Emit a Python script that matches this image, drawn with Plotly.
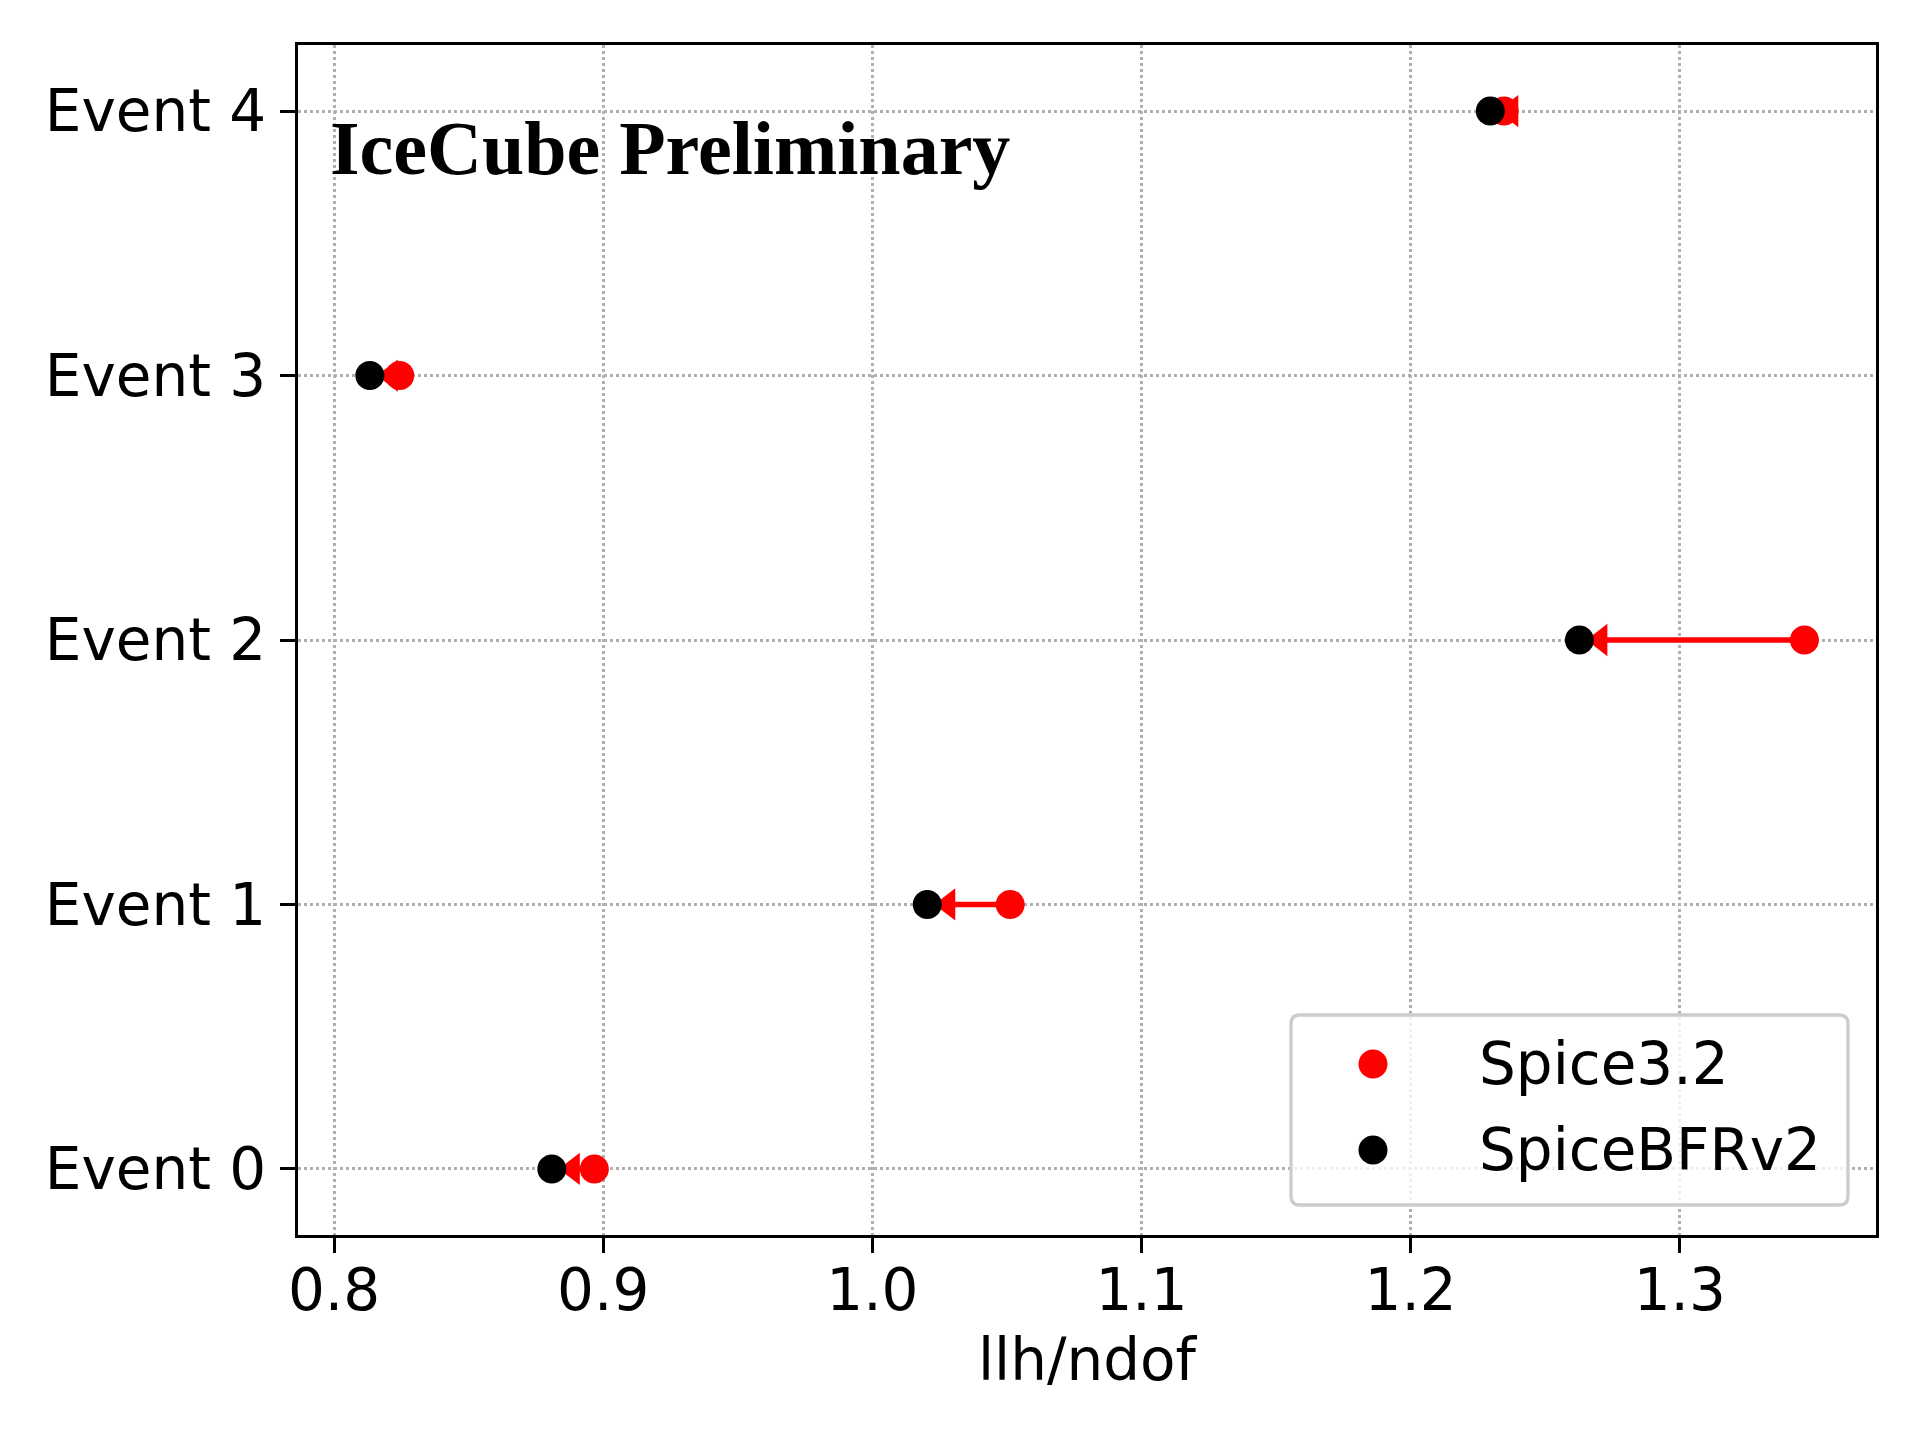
import plotly.graph_objects as go

# ---- data ----
events = ["Event 0", "Event 1", "Event 2", "Event 3", "Event 4"]
spice32 = [0.8967, 1.0512, 1.3463, 0.8244, 1.2347]
spice_bfrv2 = [0.8809, 1.0204, 1.2627, 0.8133, 1.2296]
xtick_vals = [0.8, 0.9, 1.0, 1.1, 1.2, 1.3]
xtick_text = ["0.8", "0.9", "1.0", "1.1", "1.2", "1.3"]
series_names = ["Spice3.2", "SpiceBFRv2"]

# ---- layout constants ----
W, H = 1920, 1440
OFF = 8  # page body margin offset
PX0, PX1, PY0, PY1 = 298, 1876, 45, 1235  # plot area on screen
M = dict(l=PX0 - OFF, r=W + OFF - PX1, t=PY0 - OFF, b=H + OFF - PY1)
XR = [0.7866, 1.3729]
YR = [-0.25, 4.25]
plot_w = PX1 - PX0
plot_h = PY1 - PY0
units_per_px = (XR[1] - XR[0]) / plot_w
HEAD_SIZE = 28
head_offset = 21 * units_per_px
FONT = "DejaVu Sans"
FS = 58
MS = 29

fig = go.Figure()

# arrow shafts (red -> black)
sx, sy = [], []
for e, r, b in zip(events, spice32, spice_bfrv2):
    sx += [r, b, None]
    sy += [e, e, None]
fig.add_trace(go.Scatter(x=sx, y=sy, mode="lines",
                         line=dict(color="#ff0000", width=5.5),
                         showlegend=False, hoverinfo="skip"))
# arrow heads
fig.add_trace(go.Scatter(x=[b + head_offset for b in spice_bfrv2], y=events,
                         mode="markers",
                         marker=dict(symbol="triangle-left", size=HEAD_SIZE,
                                     color="#ff0000", line=dict(width=0)),
                         showlegend=False, hoverinfo="skip"))
# points
fig.add_trace(go.Scatter(x=spice32, y=events, mode="markers", name=series_names[0],
                         marker=dict(color="#ff0000", size=MS, line=dict(width=0)),
                         showlegend=False))
fig.add_trace(go.Scatter(x=spice_bfrv2, y=events, mode="markers", name=series_names[1],
                         marker=dict(color="#000000", size=MS, line=dict(width=0)),
                         showlegend=False))

axis_common = dict(
    showline=True, linewidth=3.3, linecolor="black", mirror=True,
    ticks="outside", ticklen=15, tickwidth=3.3, tickcolor="black",
    showgrid=True, gridcolor="#b0b0b0", griddash="dot", gridwidth=2.5,
    zeroline=False,
    tickfont=dict(family=FONT, size=FS, color="black"),
)

fig.update_layout(
    width=W, height=H,
    margin=M,
    paper_bgcolor="white", plot_bgcolor="white",
    showlegend=False,
    font=dict(family=FONT, size=FS, color="black"),
    xaxis=dict(range=XR, tickvals=xtick_vals, ticktext=xtick_text,
               title=dict(text="llh/ndof", font=dict(family=FONT, size=FS, color="black"),
                          standoff=17),
               ticklabelstandoff=-13,
               **axis_common),
    yaxis=dict(type="category", categoryorder="array", categoryarray=events,
               range=YR, ticklabelstandoff=2, **axis_common),
)

# ---- helpers: screen px -> paper ----
def px_x(p):
    return (p - PX0) / plot_w

def px_y(p):
    return (PY1 - p) / plot_h

# "IceCube Preliminary" label
fig.add_annotation(text="<b>IceCube Preliminary</b>", xref="paper", yref="paper",
                   x=px_x(328), y=px_y(148),
                   xanchor="left", yanchor="middle", showarrow=False,
                   font=dict(family="Liberation Serif", size=76, color="black"))

# ---- manual legend (matplotlib style) ----
lx0, lx1, ly0, ly1 = px_x(1291), px_x(1848), px_y(1205), px_y(1015)
rx, ry = 9 / plot_w, 9 / plot_h
path = (f"M{lx0+rx},{ly0} L{lx1-rx},{ly0} Q{lx1},{ly0} {lx1},{ly0+ry} "
        f"L{lx1},{ly1-ry} Q{lx1},{ly1} {lx1-rx},{ly1} L{lx0+rx},{ly1} "
        f"Q{lx0},{ly1} {lx0},{ly1-ry} L{lx0},{ly0+ry} Q{lx0},{ly0} {lx0+rx},{ly0} Z")
fig.add_shape(type="path", path=path, xref="paper", yref="paper",
              fillcolor="rgba(255,255,255,0.8)", line=dict(color="#cccccc", width=3.3),
              layer="above")
leg_colors = ["#ff0000", "#000000"]
leg_rows = [1064, 1150]
for name, col, rowpx in zip(series_names, leg_colors, leg_rows):
    fig.add_shape(type="circle", xref="paper", yref="paper",
                  xsizemode="pixel", ysizemode="pixel",
                  xanchor=px_x(1373), yanchor=px_y(rowpx),
                  x0=-MS / 2, x1=MS / 2, y0=-MS / 2, y1=MS / 2,
                  fillcolor=col, line=dict(width=0), layer="above")
    fig.add_annotation(text=name, xref="paper", yref="paper",
                       x=px_x(1477), y=px_y(rowpx), xanchor="left", yanchor="middle",
                       showarrow=False, font=dict(family=FONT, size=FS, color="black"))

fig.write_html("out.html")
